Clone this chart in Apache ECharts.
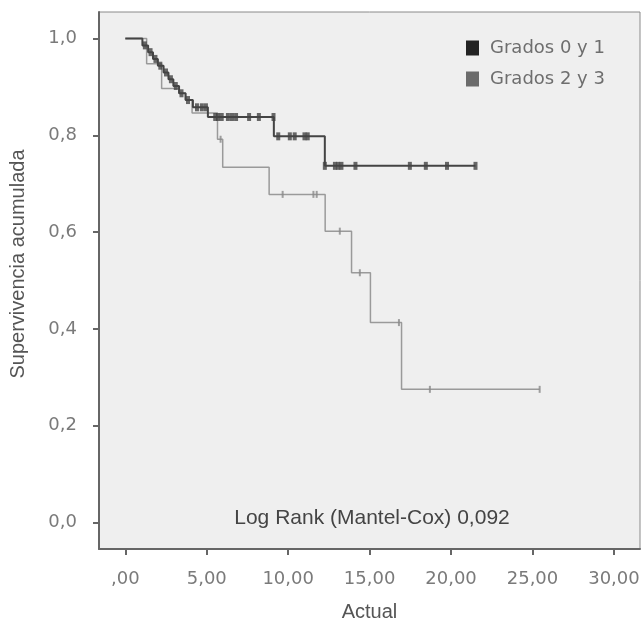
<!DOCTYPE html>
<html>
<head>
<meta charset="utf-8">
<script src="https://cdn.jsdelivr.net/npm/echarts@6/dist/echarts.min.js"></script>
<style>
html,body{margin:0;padding:0;background:#ffffff;}
#chart{width:644px;height:628px;}
</style>
</head>
<body>
<div id="chart"></div>
<script>
// ---- data ----
const seriesNames = ['Grados 0 y 1', 'Grados 2 y 3'];

// Grados 0 y 1: event times and survival after each event
const darkTimes = [1.05, 1.4, 1.7, 2.0, 2.35, 2.65, 2.95, 3.3, 3.7, 4.15, 5.07, 9.12, 12.25];
const darkSurv  = [0.986, 0.972, 0.958, 0.944, 0.930, 0.916, 0.902, 0.887, 0.873, 0.858, 0.838, 0.798, 0.737];
const darkEnd = 21.5;
const darkCensor = [1.2, 1.55, 1.85, 2.15, 2.5, 2.8, 3.1, 3.45, 3.85, 4.4, 4.7, 4.95,
  5.52, 5.69, 5.92, 6.3, 6.55, 6.8, 7.6, 8.2, 9.1,
  9.39, 10.1, 10.4, 11.0, 11.2,
  12.25, 12.87, 13.07, 13.27, 14.13, 17.47, 18.45, 19.75, 21.5];

// Grados 2 y 3
const grayTimes = [1.31, 2.23, 3.3, 3.7, 4.1, 5.66, 5.98, 8.83, 12.27, 13.89, 15.05, 16.96];
const graySurv  = [0.948, 0.897, 0.887, 0.873, 0.846, 0.792, 0.734, 0.678, 0.602, 0.516, 0.413, 0.275];
const grayEnd = 25.44;
const grayCensor = [5.85, 9.66, 11.55, 11.75, 13.17, 14.4, 16.8, 18.7, 25.44];

const xTicks = [0, 5, 10, 15, 20, 25, 30];
const yTicks = [0, 0.2, 0.4, 0.6, 0.8, 1.0];
const yAxisTitle = 'Supervivencia acumulada';
const xAxisTitle = 'Actual';
const logRankText = 'Log Rank (Mantel-Cox) 0,092';

// ---- helpers ----
function stepData(times, surv, end) {
  const d = [[0, 1]];
  times.forEach((t, i) => d.push([t, surv[i]]));
  d.push([end, surv[surv.length - 1]]);
  return d;
}
function survAt(times, surv, t) {
  let s = 1;
  for (let i = 0; i < times.length; i++) { if (times[i] <= t) s = surv[i]; }
  return s;
}
function censorData(times, surv, cens) {
  return cens.map(t => [t, survAt(times, surv, t)]);
}

const chart = echarts.init(document.getElementById('chart'), null, {renderer: 'canvas'});
const labelFont = 'DejaVu Sans';
const option = {
  backgroundColor: '#ffffff',
  animation: false,
  grid: {
    left: 99, right: 4, top: 12, bottom: 79,
    show: true, backgroundColor: '#efefef', borderColor: '#8a8a8a', borderWidth: 1
  },
  title: {
    text: logRankText,
    left: 367, top: 503, textAlign: 'center',
    textStyle: {fontFamily: 'Liberation Sans', fontSize: 21, fontWeight: 'normal', color: '#444'}
  },
  graphic: [{
    type: 'text', x: 18, y: 264, rotation: Math.PI / 2,
    style: {text: yAxisTitle, font: '20px "Liberation Sans"', fill: '#555', align: 'center', verticalAlign: 'middle'}
  }],
  legend: {
    orient: 'vertical', left: 461, top: 33, itemWidth: 13, itemHeight: 15, itemGap: 11,
    icon: 'rect',
    textStyle: {fontFamily: labelFont, fontSize: 18, color: '#6e6e6e', lineHeight: 20, padding: [0, 0, 0, 6]},
    data: [
      {name: seriesNames[0], itemStyle: {color: '#232323'}},
      {name: seriesNames[1], itemStyle: {color: '#6b6b6b'}}
    ]
  },
  xAxis: {
    type: 'value', min: -1.615, max: 31.6,
    name: xAxisTitle, nameLocation: 'middle', nameGap: 53,
    nameTextStyle: {fontFamily: 'Liberation Sans', fontSize: 20, color: '#555'},
    axisLine: {show: true, onZero: false, lineStyle: {color: '#666', width: 2}},
    axisTick: {show: true, customValues: xTicks, length: 6, lineStyle: {color: '#666', width: 2}},
    axisLabel: {
      customValues: xTicks, margin: 21,
      fontFamily: labelFont, fontSize: 18, color: '#7a7a7a',
      formatter: v => v === 0 ? ',00' : v.toFixed(2).replace('.', ',')
    },
    splitLine: {show: false}
  },
  yAxis: {
    type: 'value', min: -0.055, max: 1.055,
    axisLine: {show: true, onZero: false, lineStyle: {color: '#666', width: 2}},
    axisTick: {show: true, customValues: yTicks, length: 6, lineStyle: {color: '#666', width: 2}},
    axisLabel: {
      customValues: yTicks, margin: 22,
      fontFamily: labelFont, fontSize: 18, color: '#7a7a7a',
      formatter: v => v.toFixed(1).replace('.', ',')
    },
    splitLine: {show: false}
  },
  series: [
    {
      name: seriesNames[1], type: 'line', step: 'end', showSymbol: false,
      data: stepData(grayTimes, graySurv, grayEnd),
      lineStyle: {color: '#9a9a9a', width: 1.5}, itemStyle: {color: '#6b6b6b'}, z: 2
    },
    {
      name: seriesNames[1] + ' c', type: 'scatter', symbol: 'rect', symbolSize: [2, 7],
      data: censorData(grayTimes, graySurv, grayCensor),
      itemStyle: {color: '#8a8a8a'}, z: 3
    },
    {
      name: seriesNames[0], type: 'line', step: 'end', showSymbol: false,
      data: stepData(darkTimes, darkSurv, darkEnd),
      lineStyle: {color: '#444', width: 2}, itemStyle: {color: '#232323'}, z: 4
    },
    {
      name: seriesNames[0] + ' c', type: 'scatter', symbol: 'rect', symbolSize: [4, 8],
      data: censorData(darkTimes, darkSurv, darkCensor),
      itemStyle: {color: '#444'}, z: 5
    }
  ]
};
chart.setOption(option);
</script>
</body>
</html>
